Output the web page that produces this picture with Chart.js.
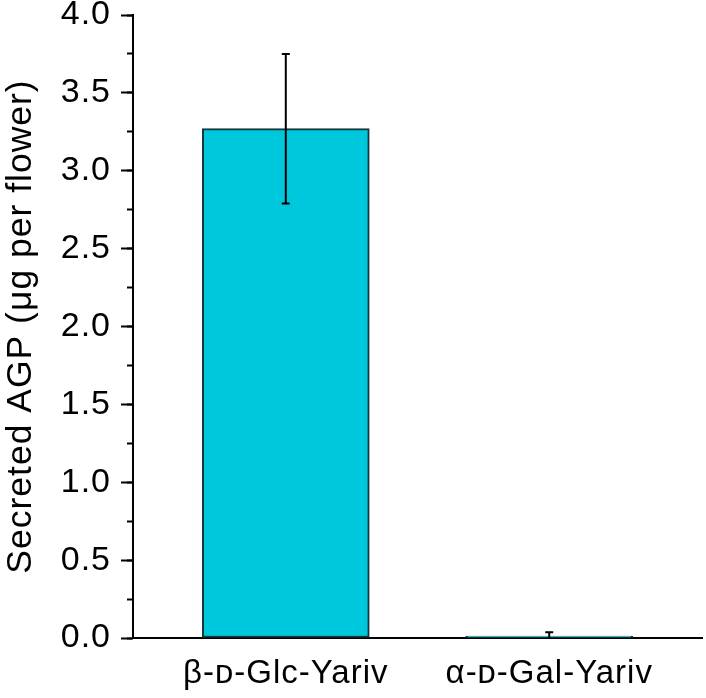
<!DOCTYPE html>
<html>
<head>
<meta charset="utf-8">
<script src="https://cdn.jsdelivr.net/npm/chart.js@4.4.1/dist/chart.umd.min.js"></script>
<style>
  html, body { margin: 0; padding: 0; background: #ffffff; }
  #wrap { width: 706px; height: 698px; }
</style>
</head>
<body>
<div id="wrap"><canvas id="c" width="706" height="698"></canvas></div>
<script>
// ---- data ----
const categories = ['β-ᴅ-Glc-Yariv', 'α-ᴅ-Gal-Yariv'];
const meanValues = [3.27, 0.012];
const errorValues = [0.48, 0.025];
const yTicksMajor = [0, 0.5, 1.0, 1.5, 2.0, 2.5, 3.0, 3.5, 4.0];
const yTitle = 'Secreted AGP (μg per flower)';

const FONT = '"Liberation Sans", Arial, Helvetica, sans-serif';
const SPACING = '1px';

const spacingPlugin = {
  id: 'spacing',
  beforeLayout(chart) { chart.ctx.letterSpacing = SPACING; },
  beforeDraw(chart) { chart.ctx.letterSpacing = SPACING; }
};

const errorBarPlugin = {
  id: 'errorBars',
  afterDatasetsDraw(chart) {
    const ctx = chart.ctx;
    const xs = chart.scales.x, ys = chart.scales.y;
    ctx.save();
    ctx.strokeStyle = '#000000';
    ctx.lineWidth = 2;
    meanValues.forEach((m, i) => {
      const e = errorValues[i];
      const px = xs.getPixelForValue(i);
      const top = ys.getPixelForValue(m + e);
      const bot = ys.getPixelForValue(Math.max(0, m - e));
      const cap = 4;
      ctx.beginPath();
      ctx.moveTo(px, bot); ctx.lineTo(px, top);
      ctx.moveTo(px - cap, top); ctx.lineTo(px + cap, top);
      if (m - e > 0) { ctx.moveTo(px - cap, bot); ctx.lineTo(px + cap, bot); }
      ctx.stroke();
    });
    ctx.restore();
  }
};

new Chart(document.getElementById('c'), {
  type: 'bar',
  data: {
    datasets: [{
      data: categories.map((c, i) => ({ x: i, y: meanValues[i] })),
      backgroundColor: '#00C8DC',
      borderColor: '#15363c',
      borderWidth: 2,
      borderSkipped: false,
      barThickness: 167
    }]
  },
  options: {
    responsive: false,
    devicePixelRatio: 1,
    animation: false,
    events: [],
    layout: { padding: { left: 0, right: 4, top: 0, bottom: 0 } },
    plugins: { legend: { display: false }, tooltip: { enabled: false } },
    scales: {
      x: {
        type: 'linear',
        min: -0.58,
        max: 1.58,
        offset: false,
        bounds: 'data',
        afterBuildTicks: (s) => { s.ticks = categories.map((c, i) => ({ value: i })); },
        afterFit: (s) => { s.height = 60; },
        grid: { display: false, drawTicks: false, offset: false },
        border: { display: true, color: '#000000', width: 2 },
        ticks: {
          color: '#000000',
          padding: 16,
          maxRotation: 0,
          autoSkip: false,
          font: { family: FONT, size: 33 },
          callback: (v) => categories[v] ?? ''
        }
      },
      y: {
        min: 0,
        max: 4,
        weight: 1,
        afterBuildTicks: (s) => { s.ticks = yTicksMajor.map(v => ({ value: v })); },
        afterFit: (s) => { s.width = 133; s.paddingTop = 15; s.paddingBottom = 0; },
        grid: { drawOnChartArea: false, drawTicks: true, tickLength: 12, tickWidth: 2, tickColor: '#000000' },
        border: { display: true, color: '#000000', width: 2 },
        ticks: {
          color: '#000000',
          padding: 10,
          font: { family: FONT, size: 34, lineHeight: 1.0 },
          callback: (v) => Number(v).toFixed(1)
        },
        title: {
          display: true,
          text: yTitle,
          color: '#000000',
          padding: { top: 0, bottom: 4 },
          font: { family: FONT, size: 35.5 }
        }
      },
      yMinor: {
        type: 'linear',
        position: 'left',
        weight: 0,
        min: 0,
        max: 4,
        ticks: { display: false, stepSize: 0.25 },
        afterFit: (s) => { s.width = 0; s.paddingTop = 0; s.paddingBottom = 0; },
        grid: { drawOnChartArea: false, drawTicks: true, tickLength: 6, tickWidth: 2, tickColor: '#000000' },
        border: { display: false }
      }
    }
  },
  plugins: [spacingPlugin, errorBarPlugin]
});
</script>
</body>
</html>
